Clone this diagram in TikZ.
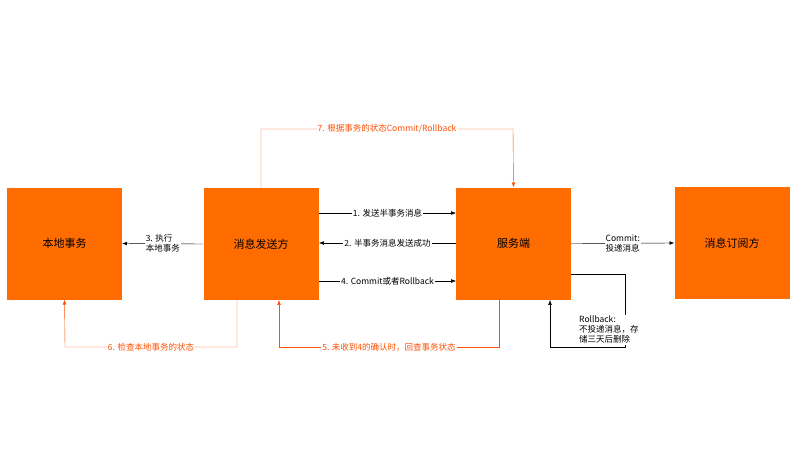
\documentclass[tikz,border=0pt]{standalone}
\usepackage{fontspec}
\setmainfont{Noto Sans CJK SC}
\usetikzlibrary{arrows.meta}
\definecolor{boxorange}{RGB}{255,108,0}
\definecolor{lineorange}{RGB}{255,80,0}
\begin{document}
\begin{tikzpicture}[x=1pt,y=-1pt,>=Latex,
    box/.style={fill=boxorange,minimum width=115pt,minimum height=112pt,font=\fontsize{11}{13}\selectfont},
    lbl/.style={fill=white,font=\fontsize{8.5}{10}\selectfont,inner sep=1pt},
    blk/.style={->,black,thin},
    org/.style={->,lineorange,thin}]
  \useasboundingbox (0,0) rectangle (800,450);
  \node[box] (local) at (64.5,243.5) {本地事务};
  \node[box] (sender) at (261,244) {消息发送方};
  \node[box] (server) at (513.5,243.5) {服务端};
  \node[box] (sub) at (732,243) {消息订阅方};

  \coordinate (s1) at (319,213); \coordinate (e1) at (456,213);
  \coordinate (s2) at (456,243); \coordinate (e2) at (319,243);
  \coordinate (s4) at (319,281); \coordinate (e4) at (456,281);
  \draw[blk] (s1) -- node[lbl]{1. 发送半事务消息} (e1);
  \draw[blk] (s2) -- node[lbl]{2. 半事务消息发送成功} (e2);
  \draw[blk] (s4) -- node[lbl]{4. Commit或者Rollback} (e4);
  \draw[blk] (sender.west) -- node[lbl,align=left]{3. 执行\\本地事务} (local.east);
  \draw[blk] (server.east) -- node[lbl,align=left]{Commit:\\投递消息} (sub.west);

  % rollback
  \coordinate (rb) at (571,274);
  \draw[blk] (rb) -- (625,274) -- (625,347) -- (550,347) -- (550,300);
  \node[lbl,align=left,anchor=north west] (rbl) at (578,315) {Rollback:\\不投递消息，存\\储三天后删除};

  % orange loops
  \draw[org] (261,188) -- (261,129) -- node[lbl]{7. 根据事务的状态Commit/Rollback} (513,129) -- (server.north);
  \draw[org] (237,300) -- (237,347) -- node[lbl]{6. 检查本地事务的状态} (65,347) -- (local.south);
  \draw[org] (499,299) -- (499,347) -- node[lbl]{5. 未收到4的确认时，回查事务状态} (279,347) -- (279,300);
\end{tikzpicture}
\end{document}
